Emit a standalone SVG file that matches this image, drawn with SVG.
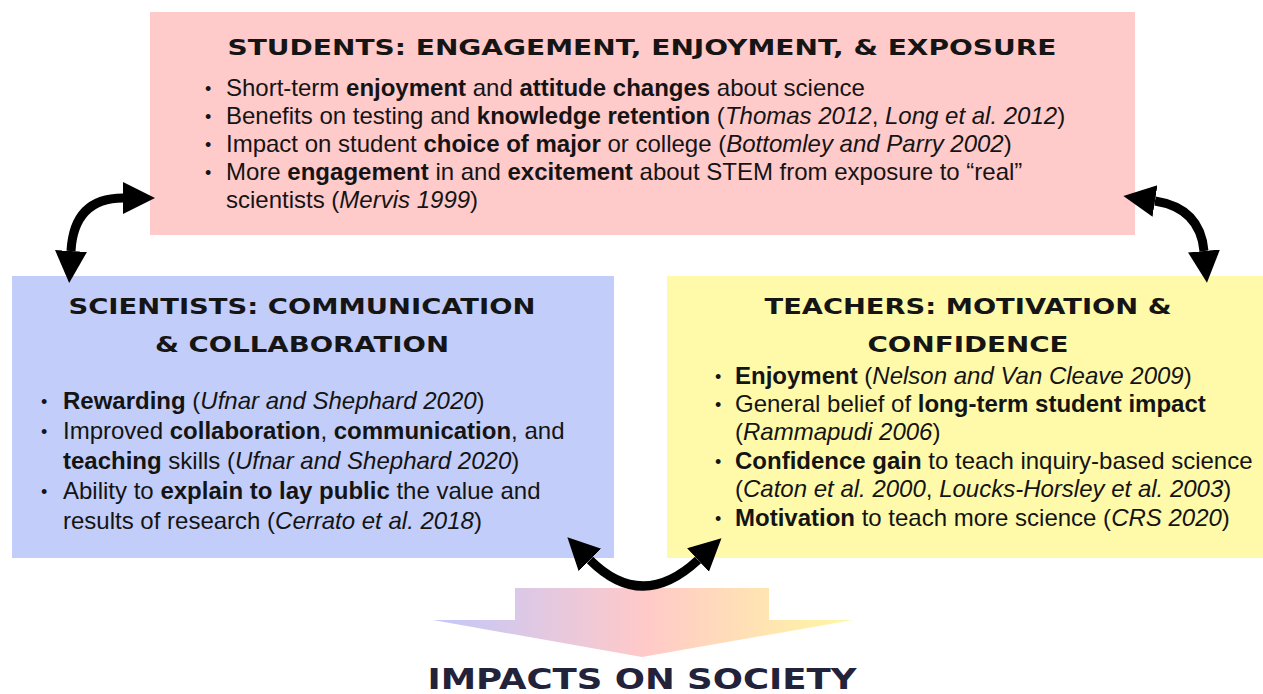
<svg xmlns="http://www.w3.org/2000/svg" width="1263" height="694" viewBox="0 0 1263 694">
  <style>
    .body { font-family: "Liberation Sans", Arial, sans-serif; font-size: 24px; fill: #141414; }
    .bul { font-family: "Liberation Sans", Arial, sans-serif; font-size: 18px; fill: #141414; }
    .b { font-weight: bold; }
    .i { font-style: italic; }
    .title { font-family: "DejaVu Sans", sans-serif; font-weight: bold; font-size: 22px; fill: #151515; text-anchor: middle; }
    .link { fill: none; stroke: #000; stroke-width: 9; marker-start: url(#head); marker-end: url(#head); }
  </style>
  <defs>
    <marker id="head" markerUnits="userSpaceOnUse" markerWidth="34" markerHeight="34" viewBox="0 -17 34 34" refX="0" refY="0" orient="auto-start-reverse">
      <path d="M0,-16 L32,0 L0,16 Z" fill="#000"/>
    </marker>
    <linearGradient id="society" gradientUnits="userSpaceOnUse" x1="433" y1="0" x2="853" y2="0">
      <stop offset="0" stop-color="#c2c8fb"/>
      <stop offset="0.5" stop-color="#ffc9c9"/>
      <stop offset="1" stop-color="#fff8a2"/>
    </linearGradient>
  </defs>

  <rect width="1263" height="694" fill="#fff"/>

  <!-- Students -->
  <g id="students">
    <rect x="150" y="12" width="985" height="223" fill="#ffcaca"/>
    <text class="title" x="642" y="55" textLength="829" lengthAdjust="spacingAndGlyphs">STUDENTS: ENGAGEMENT, ENJOYMENT, &amp; EXPOSURE</text>
    <text class="bul" x="205" y="95">•</text>
    <text class="bul" x="205" y="123">•</text>
    <text class="bul" x="205" y="151">•</text>
    <text class="bul" x="205" y="179">•</text>
    <text class="body" x="226" y="96">Short-term <tspan class="b">enjoyment</tspan> and <tspan class="b">attitude changes</tspan> about science</text>
    <text class="body" x="226" y="124">Benefits on testing and <tspan class="b">knowledge retention</tspan> (<tspan class="i">Thomas 2012</tspan>, <tspan class="i">Long et al. 2012</tspan>)</text>
    <text class="body" x="226" y="152">Impact on student <tspan class="b">choice of major</tspan> or college (<tspan class="i">Bottomley and Parry 2002</tspan>)</text>
    <text class="body" x="226" y="180">More <tspan class="b">engagement</tspan> in and <tspan class="b">excitement</tspan> about STEM from exposure to “real”</text>
    <text class="body" x="226" y="208">scientists (<tspan class="i">Mervis 1999</tspan>)</text>
  </g>

  <!-- Scientists -->
  <g id="scientists">
    <rect x="12" y="276" width="602" height="282" fill="#c3cdf9"/>
    <text class="title" x="302" y="314" textLength="467" lengthAdjust="spacingAndGlyphs">SCIENTISTS: COMMUNICATION</text>
    <text class="title" x="302" y="352" textLength="294" lengthAdjust="spacingAndGlyphs">&amp; COLLABORATION</text>
    <text class="bul" x="41" y="408">•</text>
    <text class="bul" x="41" y="438">•</text>
    <text class="bul" x="41" y="498">•</text>
    <text class="body" x="63" y="409"><tspan class="b">Rewarding</tspan> (<tspan class="i">Ufnar and Shephard 2020</tspan>)</text>
    <text class="body" x="63" y="439">Improved <tspan class="b">collaboration</tspan>, <tspan class="b">communication</tspan>, and</text>
    <text class="body" x="63" y="469"><tspan class="b">teaching</tspan> skills (<tspan class="i">Ufnar and Shephard 2020</tspan>)</text>
    <text class="body" x="63" y="499">Ability to <tspan class="b">explain to lay public</tspan> the value and</text>
    <text class="body" x="63" y="529">results of research (<tspan class="i">Cerrato et al. 2018</tspan>)</text>
  </g>

  <!-- Teachers -->
  <g id="teachers">
    <rect x="667" y="276" width="596" height="282" fill="#fffaaa"/>
    <text class="title" x="968" y="314" textLength="407" lengthAdjust="spacingAndGlyphs">TEACHERS: MOTIVATION &amp;</text>
    <text class="title" x="968" y="352" textLength="201" lengthAdjust="spacingAndGlyphs">CONFIDENCE</text>
    <text class="bul" x="715" y="383">•</text>
    <text class="bul" x="715" y="411">•</text>
    <text class="bul" x="715" y="468">•</text>
    <text class="bul" x="715" y="525">•</text>
    <text class="body" x="735" y="384"><tspan class="b">Enjoyment</tspan> (<tspan class="i">Nelson and Van Cleave 2009</tspan>)</text>
    <text class="body" x="735" y="412">General belief of <tspan class="b">long-term student impact</tspan></text>
    <text class="body" x="735" y="440">(<tspan class="i">Rammapudi 2006</tspan>)</text>
    <text class="body" x="735" y="469"><tspan class="b">Confidence gain</tspan> to teach inquiry-based science</text>
    <text class="body" x="735" y="497">(<tspan class="i">Caton et al. 2000</tspan>, <tspan class="i">Loucks-Horsley et al. 2003</tspan>)</text>
    <text class="body" x="735" y="526"><tspan class="b">Motivation</tspan> to teach more science (<tspan class="i">CRS 2020</tspan>)</text>
  </g>

  <!-- Society -->
  <g id="society-impact">
    <polygon points="515,588 769,588 769,620 853,620 642,657 433,620 515,620" fill="url(#society)"/>
    <text x="642" y="689" text-anchor="middle" textLength="429" lengthAdjust="spacingAndGlyphs" font-family="DejaVu Sans, sans-serif" font-weight="bold" font-size="28" fill="#22223a">IMPACTS ON SOCIETY</text>
  </g>

  <!-- Two-way links between groups -->
  <g id="connectors">
    <path class="link" d="M123,198 Q74,198 71,251"/>
    <path class="link" d="M1155,201 Q1200,208 1204,251"/>
    <path class="link" d="M590,560 Q642,612 698,560"/>
  </g>
</svg>
